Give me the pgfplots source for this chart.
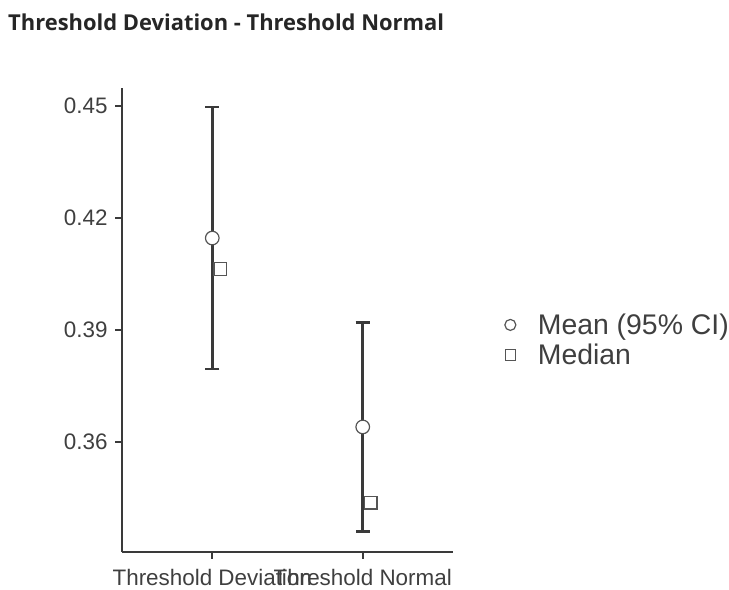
\documentclass[border=0pt]{standalone}
\usepackage{fontspec}
\setmainfont{Liberation Sans}
\newfontfamily\titlefont{Open Sans}
\usepackage{pgfplots}
\pgfplotsset{compat=1.18}
\definecolor{axcol}{HTML}{3A3A3A}
\definecolor{txtcol}{HTML}{3F3F3F}
\definecolor{mkcol}{HTML}{555555}
\begin{document}
\begin{tikzpicture}[x=1bp,y=1bp]
\useasboundingbox (0,0) rectangle (729,590);
\node[anchor=base west, inner sep=0, text=black!85, font=\titlefont\bfseries\fontsize{22}{26}\selectfont] at (8,559) {Threshold Deviation - Threshold Normal};
\begin{axis}[
  at={(122bp,38bp)}, anchor=south west,
  scale only axis, width=331bp, height=464bp,
  xmin=0.4, xmax=2.6, ymin=0.3305, ymax=0.4548,
  axis x line*=bottom, axis y line*=left,
  axis line style={draw=axcol, line width=1.8bp},
  xtick={1,2}, xticklabels={Threshold Deviation,Threshold Normal},
  ytick={0.36,0.39,0.42,0.45}, yticklabels={0.36,0.39,0.42,0.45},
  tick align=outside, major tick length=7bp,
  tick style={draw=axcol, line width=1.8bp},
  ticklabel style={font=\fontsize{22.5}{25}\selectfont, text=txtcol},
  xticklabel style={yshift=-7bp},
  yticklabel style={xshift=-4bp},
  legend style={at={(rel axis cs:1.147,0.457)}, anchor=west, draw=none, fill=none,
    font=\fontsize{28.5}{31}\selectfont, text=txtcol, row sep=4bp, column sep=20bp},
  legend cell align=left,
  clip=false,
]
\addplot[draw=none, mark=none, forget plot,
  error bars/.cd, y dir=both, y explicit,
  error bar style={draw=axcol, line width=2.8bp},
  error mark options={draw=axcol, line width=2.8bp, rotate=90, mark size=7bp}]
  coordinates {(1,0.4146) +- (0,0.0351) (2,0.3640) +- (0,0.0280)};
\addplot[only marks, mark=*, mark size=6.8bp, mark options={draw=mkcol, fill=white, line width=1.2bp},
  legend image post style={mark size=5.5bp}]
  coordinates {(1,0.4146) (2,0.3640)};
\addlegendentry{Mean (95\% CI)}
\addplot[only marks, mark=square, mark size=6.3bp, mark options={draw=mkcol, fill=white, line width=1.2bp},
  legend image post style={mark size=5.2bp}]
  coordinates {(1.053,0.4063) (2.053,0.3437)};
\addlegendentry{Median}
\end{axis}
\end{tikzpicture}
\end{document}
